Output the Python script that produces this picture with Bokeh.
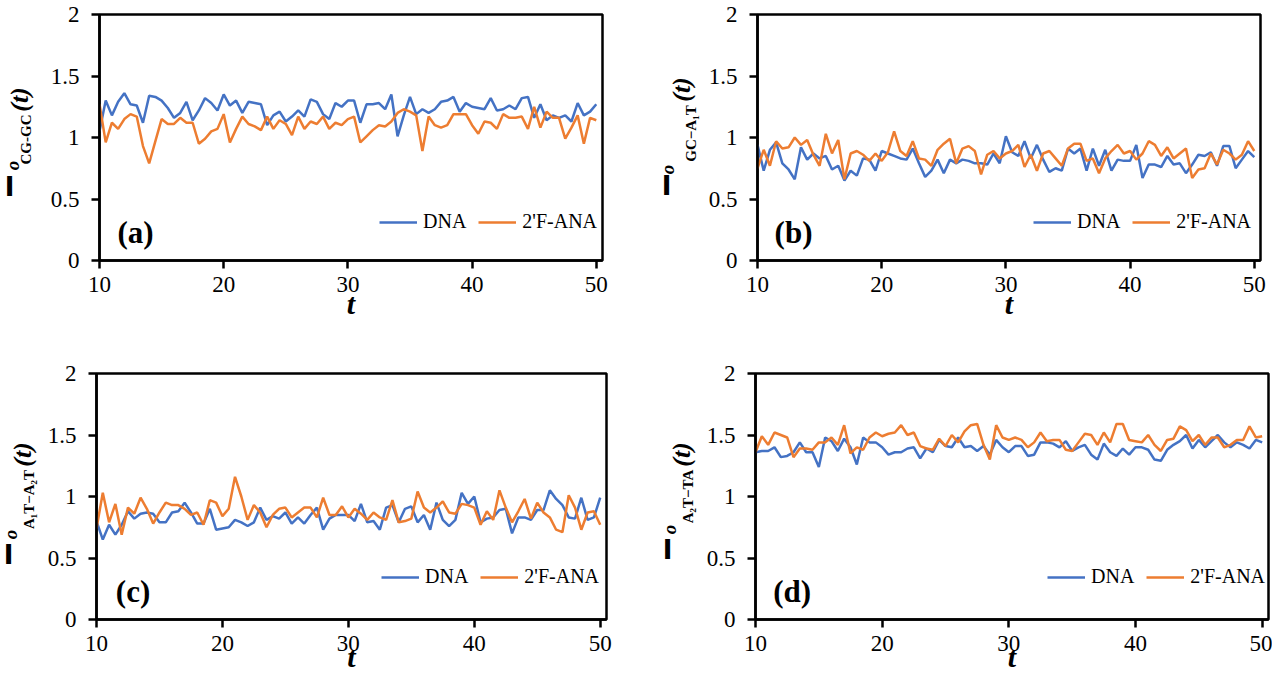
from math import pi
from bokeh.plotting import figure
from bokeh.models import Range1d, NumeralTickFormatter, FixedTicker
from bokeh.layouts import column, row
from bokeh.core.properties import value
from bokeh.embed import file_html
from bokeh.resources import INLINE

T = [i / 2 for i in range(20, 101)]

DNA_A = [1.05, 1.30, 1.18, 1.29, 1.36, 1.27, 1.26, 1.12, 1.34, 1.33, 1.30, 1.24, 1.16, 1.20, 1.29, 1.14,
         1.22, 1.32, 1.28, 1.22, 1.35, 1.26, 1.30, 1.20, 1.29, 1.28, 1.27, 1.10, 1.18, 1.21, 1.13, 1.17,
         1.22, 1.17, 1.31, 1.29, 1.19, 1.15, 1.28, 1.25, 1.30,
         1.30, 1.12, 1.27, 1.27, 1.28, 1.23, 1.35, 1.01, 1.18, 1.33, 1.19, 1.23, 1.20, 1.23, 1.29, 1.30,
         1.33, 1.21, 1.28, 1.25, 1.24, 1.23, 1.32, 1.22, 1.23, 1.26, 1.23, 1.32, 1.33, 1.16, 1.27, 1.14,
         1.18, 1.16, 1.18, 1.13, 1.28, 1.18, 1.21, 1.27]
ANA_A = [1.27, 0.96, 1.12, 1.07, 1.15, 1.19, 1.17, 0.93, 0.79, 0.97, 1.15, 1.11, 1.11, 1.16, 1.12, 1.12,
         0.95, 0.99, 1.05, 1.07, 1.19, 0.96, 1.07, 1.17, 1.11, 1.09, 1.06, 1.17, 1.07, 1.14, 1.11, 1.02,
         1.17, 1.07, 1.13, 1.11, 1.17, 1.07, 1.12, 1.10, 1.15,
         1.17, 0.96, 1.01, 1.06, 1.10, 1.09, 1.13, 1.20, 1.23, 1.21, 1.18, 0.89, 1.17, 1.10, 1.08, 1.10,
         1.19, 1.19, 1.19, 1.10, 1.03, 1.13, 1.12, 1.07, 1.19, 1.16, 1.16, 1.17, 1.07, 1.25, 1.08, 1.21,
         1.16, 1.16, 0.99, 1.08, 1.18, 0.95, 1.16, 1.14]

DNA_B = [0.94, 0.73, 0.90, 0.96, 0.79, 0.74, 0.66, 0.92, 0.82, 0.87, 0.83, 0.85, 0.74, 0.77, 0.65, 0.73,
         0.69, 0.83, 0.82, 0.73, 0.89, 0.87, 0.85, 0.83, 0.82, 0.91, 0.79, 0.68, 0.73, 0.82, 0.71, 0.82,
         0.79, 0.82, 0.81, 0.79, 0.79, 0.78, 0.87, 0.79, 1.01, 0.88, 0.85, 0.97, 0.83, 0.94, 0.82,
         0.72, 0.75, 0.73, 0.91, 0.87, 0.91, 0.73, 0.91, 0.77, 0.90, 0.73, 0.82, 0.81, 0.81, 0.94, 0.67,
         0.78, 0.78, 0.76, 0.85, 0.78, 0.79, 0.71, 0.78, 0.86, 0.85, 0.88, 0.77, 0.93, 0.93, 0.75, 0.82,
         0.89, 0.84]
ANA_B = [0.75, 0.90, 0.77, 0.97, 0.91, 0.92, 1.00, 0.94, 0.98, 0.86, 0.77, 1.03, 0.87, 0.98, 0.66, 0.87,
         0.89, 0.86, 0.81, 0.87, 0.81, 0.88, 1.05, 0.89, 0.85, 0.97, 0.83, 0.82, 0.77, 0.90, 0.95, 0.99,
         0.79, 0.91, 0.93, 0.89, 0.70, 0.86, 0.89, 0.83, 0.87, 0.89, 0.94, 0.76, 0.86, 0.73, 0.87,
         0.89, 0.83, 0.77, 0.91, 0.95, 0.95, 0.81, 0.83, 0.71, 0.83, 0.89, 0.94, 0.87, 0.89, 0.82, 0.87,
         0.97, 0.94, 0.85, 0.92, 0.83, 0.87, 0.91, 0.67, 0.74, 0.75, 0.87, 0.78, 0.90, 0.87, 0.82, 0.86,
         0.97, 0.89]

DNA_C = [0.80, 0.65, 0.77, 0.69, 0.77, 0.88, 0.82, 0.86, 0.87, 0.86, 0.79, 0.79, 0.87, 0.88, 0.95, 0.87,
         0.78, 0.78, 0.90, 0.73, 0.74, 0.75, 0.81, 0.79, 0.76, 0.79, 0.91, 0.81, 0.84, 0.82, 0.87, 0.78,
         0.83, 0.78, 0.85, 0.91, 0.73, 0.82, 0.85, 0.85, 0.85, 0.80,
         0.94, 0.79, 0.80, 0.73, 0.91, 0.93, 0.79, 0.90, 0.92, 0.79, 0.85, 0.73, 0.95, 0.81, 0.76, 0.81,
         1.03, 0.94, 1.00, 0.79, 0.82, 0.83, 0.89, 0.90, 0.70, 0.83, 0.83, 0.81, 0.89, 0.89, 1.05, 0.98,
         0.93, 0.83, 0.82, 0.99, 0.81, 0.83, 0.99]
ANA_C = [0.74, 1.03, 0.79, 0.94, 0.69, 0.91, 0.86, 0.99, 0.90, 0.78, 0.87, 0.95, 0.93, 0.93, 0.90, 0.85,
         0.87, 0.77, 0.97, 0.95, 0.84, 0.90, 1.16, 1.00, 0.81, 0.93, 0.87, 0.75, 0.85, 0.90, 0.91, 0.83,
         0.87, 0.91, 0.91, 0.83, 0.99, 0.85, 0.85, 0.92, 0.83, 0.90,
         0.86, 0.81, 0.87, 0.83, 0.81, 0.97, 0.79, 0.80, 0.82, 1.04, 0.91, 0.87, 0.91, 0.96, 0.87, 0.86,
         0.94, 0.93, 0.91, 0.77, 0.88, 0.81, 1.05, 0.91, 0.79, 0.88, 0.98, 0.82, 0.95, 0.87, 0.83, 0.73,
         0.71, 1.01, 0.91, 0.73, 0.87, 0.88, 0.77]

DNA_D = [1.36, 1.37, 1.37, 1.40, 1.32, 1.33, 1.36, 1.44, 1.36, 1.36, 1.24, 1.48, 1.45, 1.37, 1.47, 1.40,
         1.26, 1.48, 1.44, 1.44, 1.40, 1.34, 1.36, 1.36, 1.39, 1.40, 1.31, 1.39, 1.36, 1.46, 1.41, 1.40,
         1.48, 1.40, 1.41, 1.37, 1.41, 1.34, 1.46, 1.40, 1.36, 1.41,
         1.41, 1.33, 1.34, 1.44, 1.44, 1.43, 1.40, 1.45, 1.37, 1.40, 1.42, 1.34, 1.30, 1.43, 1.36, 1.33,
         1.39, 1.34, 1.40, 1.40, 1.38, 1.30, 1.29, 1.38, 1.42, 1.45, 1.50, 1.39, 1.46, 1.40, 1.45, 1.50,
         1.44, 1.40, 1.44, 1.42, 1.39, 1.46, 1.44]
ANA_D = [1.36, 1.49, 1.42, 1.52, 1.50, 1.48, 1.32, 1.39, 1.39, 1.38, 1.44, 1.44, 1.48, 1.42, 1.58, 1.35,
         1.40, 1.38, 1.48, 1.52, 1.49, 1.51, 1.52, 1.58, 1.50, 1.52, 1.41, 1.39, 1.38, 1.47, 1.41, 1.50,
         1.44, 1.53, 1.58, 1.59, 1.42, 1.30, 1.58, 1.48, 1.46, 1.48,
         1.46, 1.40, 1.44, 1.52, 1.45, 1.46, 1.46, 1.38, 1.37, 1.44, 1.51, 1.50, 1.42, 1.52, 1.44, 1.59,
         1.59, 1.46, 1.45, 1.44, 1.50, 1.42, 1.37, 1.46, 1.47, 1.57, 1.54, 1.45, 1.50, 1.42, 1.48, 1.48,
         1.40, 1.42, 1.46, 1.46, 1.57, 1.48, 1.49]

X_TICKS = [10, 20, 30, 40, 50]
Y_TICKS = [0, 0.5, 1, 1.5, 2]
SERIES = ["DNA", "2'F-ANA"]
LETTERS = ["(a)", "(b)", "(c)", "(d)"]
SUBS = ["CG-GC", "GC\u2212A\u2081T", "A\u2081T\u2212A\u2082T", "A\u2082T\u2212TA"]
X_TITLE = "t"

BLUE = "#4472C4"
ORANGE = "#ED7D31"
SERIF = "Liberation Serif"
BL = 52  # left border of the chart figures (tick labels)


def ylabel_fig(lw, height, bt, bb, sub, pos):
    """Narrow figure that holds the composite, rotated y-axis title.
    Its frame lines up with the neighbouring chart frame."""
    fh = height - bt - bb
    f = figure(width=lw, height=height, x_range=Range1d(0, lw), y_range=Range1d(0, fh),
               min_border_left=0, min_border_right=0, min_border_top=bt, min_border_bottom=bb,
               x_axis_location=None, y_axis_location=None,
               output_backend="svg", toolbar_location=None, tools="")
    f.outline_line_color = None
    f.xgrid.visible = False
    f.ygrid.visible = False
    f.background_fill_color = "white"
    f.border_fill_color = "white"
    off_x = lw + BL
    bx, by, ox, oy, sx, sy, tx, ty = pos
    pieces = [("I", bx, by, 26, "bold", 0.0, "DejaVu Sans"),
              ("o", ox, oy, 19, "bold italic", pi / 2, SERIF),
              (sub, sx, sy, 15, "bold", pi / 2, SERIF),
              ("(t)", tx, ty, 26, "bold italic", pi / 2, SERIF)]
    for txt, x, y, size, style, ang, font in pieces:
        f.text(x=[off_x + x], y=[y], text=[txt], angle=ang,
               text_font=value(font), text_font_size=value(f"{size}px"),
               text_font_style=value(style), text_align="center",
               text_baseline="middle", text_color="black")
    return f


def panel(width, height, br, bt, bb, dna, ana, letter, leg_right, leg_y, t_standoff):
    fw = width - BL - br
    p = figure(width=width, height=height, min_border_left=BL, min_border_right=br,
               min_border_top=bt, min_border_bottom=bb,
               x_range=Range1d(10, 50.5), y_range=Range1d(0, 2),
               output_backend="svg", toolbar_location=None, tools="")
    p.background_fill_color = "white"
    p.border_fill_color = "white"
    p.outline_line_color = "black"
    p.outline_line_width = 2.5
    p.outline_line_alpha = 1
    p.xgrid.visible = False
    p.ygrid.visible = False
    for ax in (p.xaxis[0], p.yaxis[0]):
        ax.axis_line_width = 2.5
        ax.axis_line_color = "black"
        ax.major_tick_line_width = 2.5
        ax.major_tick_line_color = "black"
        ax.major_tick_out = 8
        ax.major_tick_in = 0
        ax.minor_tick_line_color = None
        ax.major_label_text_font = SERIF
        ax.major_label_text_font_size = "23px"
        ax.major_label_text_color = "black"
    p.xaxis.ticker = FixedTicker(ticks=X_TICKS)
    p.yaxis.ticker = FixedTicker(ticks=Y_TICKS)
    p.yaxis.formatter = NumeralTickFormatter(format="0.[0]")
    p.xaxis.major_label_standoff = 8
    p.yaxis.major_label_standoff = 12
    p.xaxis.axis_label = X_TITLE
    p.xaxis.axis_label_text_font = SERIF
    p.xaxis.axis_label_text_font_size = "30px"
    p.xaxis.axis_label_text_font_style = "bold italic"
    p.xaxis.axis_label_text_color = "black"
    p.xaxis.axis_label_standoff = t_standoff

    p.line(T, dna, line_color=BLUE, line_width=2.5, legend_label=SERIES[0])
    p.line(T, ana, line_color=ORANGE, line_width=2.5, legend_label=SERIES[1])

    leg = p.legend[0]
    leg.orientation = "horizontal"
    leg.location = (fw - leg_right - 215, leg_y)
    leg.label_text_font = SERIF
    leg.label_text_font_size = "20px"
    leg.label_text_color = "black"
    leg.glyph_width = 38
    leg.glyph_height = 20
    leg.label_standoff = 6
    leg.spacing = 12
    leg.padding = 0
    leg.margin = 0
    leg.border_line_alpha = 0
    leg.background_fill_alpha = 0

    p.text(x=[12.9], y=[0.225], text=[letter], text_font=value(SERIF),
           text_font_size=value("31px"), text_font_style=value("bold"),
           text_align="center", text_baseline="middle", text_color="black")
    return p


H1, H2 = 359, 321
BT = 14
BB1, BB2 = 99, 61

la = ylabel_fig(47, H1, BT, BB1, SUBS[0], (-90, 74, -87, 95, -74, 121, -80, 161))
pa = panel(611, H1, 56, BT, BB1, DNA_A, ANA_A, LETTERS[0], 8, 27, -8)
lb = ylabel_fig(47, H1, BT, BB1, SUBS[1], (-91, 75, -90, 91, -67, 127, -76, 171))
pb = panel(567, H1, 12, BT, BB1, DNA_B, ANA_B, LETTERS[1], 12, 27, -8)
lc = ylabel_fig(44, H2, BT, BB2, SUBS[2], (-88, 65, -86, 85, -68, 120, -74, 165))
pc = panel(613, H2, 51, BT, BB2, DNA_C, ANA_C, LETTERS[2], 10, 31, -14)
ld = ylabel_fig(46, H2, BT, BB2, SUBS[3], (-88, 70, -86, 90, -68, 123, -74, 165))
pd = panel(569, H2, 4, BT, BB2, DNA_D, ANA_D, LETTERS[3], 6, 31, -14)

layout = column(row(la, pa, lb, pb, spacing=0), row(lc, pc, ld, pd, spacing=0), spacing=0)
open("out.html", "w").write(file_html(layout, INLINE))
